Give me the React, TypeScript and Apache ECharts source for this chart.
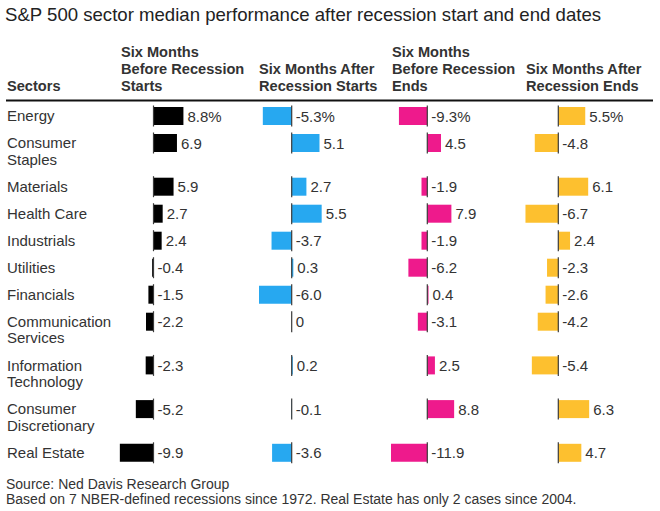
import React, { useEffect, useRef } from "react";
import * as echarts from "echarts";

const sectors = [
  "Energy",
  "Consumer\nStaples",
  "Materials",
  "Health Care",
  "Industrials",
  "Utilities",
  "Financials",
  "Communication\nServices",
  "Information\nTechnology",
  "Consumer\nDiscretionary",
  "Real Estate",
];
const beforeStart = [8.8, 6.9, 5.9, 2.7, 2.4, -0.4, -1.5, -2.2, -2.3, -5.2, -9.9];
const afterStart = [-5.3, 5.1, 2.7, 5.5, -3.7, 0.3, -6.0, 0, 0.2, -0.1, -3.6];
const beforeEnd = [-9.3, 4.5, -1.9, 7.9, -1.9, -6.2, 0.4, -3.1, 2.5, 8.8, -11.9];
const afterEnd = [5.5, -4.8, 6.1, -6.7, 2.4, -2.3, -2.6, -4.2, -5.4, 6.3, 4.7];

const columnHeaders = [
  "Six Months\nBefore Recession\nStarts",
  "Six Months After\nRecession Starts",
  "Six Months\nBefore Recession\nEnds",
  "Six Months After\nRecession Ends",
];
const titleText = "S&P 500 sector median performance after recession start and end dates";
const sourceText = "Source: Ned Davis Research Group";
const noteText = "Based on 7 NBER-defined recessions since 1972. Real Estate has only 2 cases since 2004.";

const FONT = '"Liberation Sans", Arial, Helvetica, sans-serif';
const TEXT = "#333333";

// layout
const ROW_PITCH = 27;
const EXTRA_LINE = 16.7;
const GRID_TOP = 102;
const Y_MIN = -14;
const Y_MAX = 354;
const BAR_H = 18;

const columns = [
  { data: beforeStart, color: "#000000", zeroX: 153.5, ppu: 3.4, min: -12, max: 12, headerX: 121 },
  { data: afterStart, color: "#27a8f0", zeroX: 291.7, ppu: 5.45, min: -7, max: 7, headerX: 259 },
  { data: beforeEnd, color: "#ee1a8c", zeroX: 427.3, ppu: 3.05, min: -13, max: 13, headerX: 392 },
  { data: afterEnd, color: "#fdc02f", zeroX: 558.3, ppu: 4.9, min: -8, max: 8, headerX: 526 },
];

function rowPositions(labels: string[]): number[] {
  const out: number[] = [];
  let acc = 0;
  labels.forEach((l) => {
    out.push(acc);
    const lines = l.split("\n").length;
    acc += ROW_PITCH + EXTRA_LINE * (lines - 1);
  });
  return out;
}

function fmt(v: number, i: number): string {
  const s = v === 0 ? "0" : v.toFixed(1);
  return i === 0 ? s + "%" : s;
}

export default function App() {
  const ref = useRef<HTMLDivElement>(null);
  useEffect(() => {
    if (!ref.current) return;
    const chart = echarts.init(ref.current, undefined, { renderer: "svg" });
    const ypos = rowPositions(sectors);
    const gridH = Y_MAX - Y_MIN;

    const grids: any[] = [];
    const xAxes: any[] = [];
    const yAxes: any[] = [];
    const series: any[] = [];

    // label grid (sector names)
    grids.push({ left: 0, top: GRID_TOP, width: 110, height: gridH });
    xAxes.push({ gridIndex: 0, type: "value", min: 0, max: 110, show: false, splitLine: { show: false } });
    yAxes.push({ gridIndex: 0, type: "value", min: Y_MIN, max: Y_MAX, inverse: true, show: false, splitLine: { show: false } });
    series.push({
      type: "custom",
      xAxisIndex: 0,
      yAxisIndex: 0,
      clip: false,
      data: sectors.map((s, i) => [0, ypos[i], s]),
      renderItem: (params: any, api: any) => {
        const p = api.coord([0, api.value(1)]);
        const name = sectors[params.dataIndex];
        return {
          type: "text",
          x: 7,
          y: p[1] - 8.5,
          style: {
            text: name,
            font: `15px ${FONT}`,
            fill: TEXT,
            lineHeight: 16.5,
            verticalAlign: "top",
            align: "left",
          },
        };
      },
    });

    columns.forEach((c, k) => {
      const gi = k + 1;
      grids.push({ left: c.zeroX + c.min * c.ppu, top: GRID_TOP, width: (c.max - c.min) * c.ppu, height: gridH });
      xAxes.push({ gridIndex: gi, type: "value", min: c.min, max: c.max, show: false, splitLine: { show: false } });
      yAxes.push({ gridIndex: gi, type: "value", min: Y_MIN, max: Y_MAX, inverse: true, show: false, splitLine: { show: false } });
      series.push({
        type: "custom",
        xAxisIndex: gi,
        yAxisIndex: gi,
        clip: false,
        data: c.data.map((v, i) => [v, ypos[i]]),
        renderItem: (params: any, api: any) => {
          const v = api.value(0);
          const y = api.value(1);
          const p0 = api.coord([0, y]);
          const p1 = api.coord([v, y]);
          const x0 = Math.min(p0[0], p1[0]);
          const w = Math.abs(p1[0] - p0[0]);
          return {
            type: "group",
            children: [
              {
                type: "rect",
                shape: { x: x0, y: p0[1] - BAR_H / 2, width: w, height: BAR_H },
                style: { fill: c.color },
              },
              {
                type: "line",
                shape: { x1: p0[0], y1: p0[1] - 10.5, x2: p0[0], y2: p0[1] + 10.5 },
                style: { stroke: "#3a3a3a", lineWidth: 1.2 },
              },
              {
                type: "text",
                x: Math.max(p0[0], p1[0]) + 4,
                y: p0[1],
                style: {
                  text: fmt(v, params.dataIndex),
                  font: `15px ${FONT}`,
                  fill: TEXT,
                  verticalAlign: "middle",
                  align: "left",
                },
              },
            ],
          };
        },
      });
    });

    const graphic: any[] = [
      {
        type: "text",
        x: 5,
        y: 14,
        style: { text: titleText, font: `18.6px ${FONT}`, fill: "#222222", verticalAlign: "middle" },
      },
      {
        type: "text",
        x: 7,
        y: 94.5,
        style: { text: "Sectors", font: `bold 14.6px ${FONT}`, fill: TEXT, verticalAlign: "bottom", lineHeight: 17 },
      },
      ...columns.map((c, k) => ({
        type: "text",
        x: c.headerX,
        y: 94.5,
        style: {
          text: columnHeaders[k],
          font: `bold 14.6px ${FONT}`,
          fill: TEXT,
          verticalAlign: "bottom",
          lineHeight: 17,
        },
      })),
      {
        type: "line",
        shape: { x1: 6, y1: 100.5, x2: 653, y2: 100.5 },
        style: { stroke: "#111111", lineWidth: 2 },
      },
      {
        type: "text",
        x: 6,
        y: 484,
        style: { text: sourceText, font: `14px ${FONT}`, fill: TEXT, verticalAlign: "middle" },
      },
      {
        type: "text",
        x: 6,
        y: 499,
        style: { text: noteText, font: `14px ${FONT}`, fill: TEXT, verticalAlign: "middle" },
      },
    ];

    chart.setOption({
      animation: false,
      backgroundColor: "#ffffff",
      grid: grids,
      xAxis: xAxes,
      yAxis: yAxes,
      series,
      graphic,
    });
    return () => chart.dispose();
  }, []);
  return (
    <div
      ref={ref}
      style={{ position: "absolute", left: 0, top: 0, width: 660, height: 511 }}
    />
  );
}
